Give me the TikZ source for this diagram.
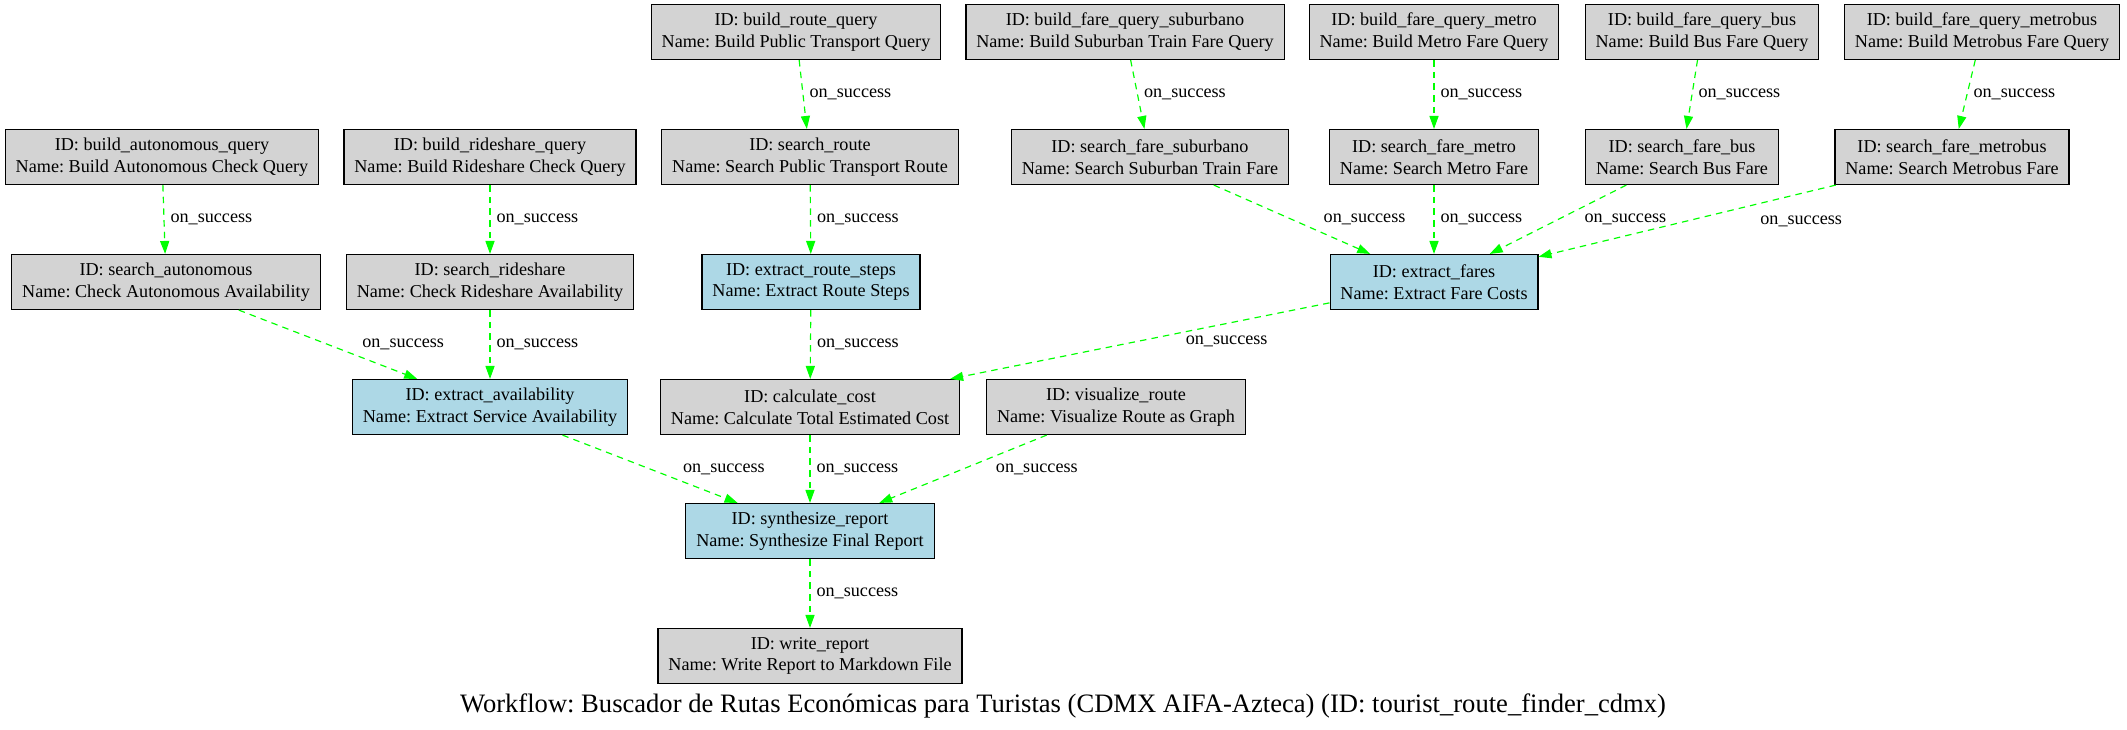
\documentclass[tikz,border=0pt]{standalone}
\usepackage{fontspec}
\setmainfont{Liberation Serif}
\usetikzlibrary{arrows.meta}
\frenchspacing

\definecolor{taskgray}{HTML}{D3D3D3}
\definecolor{taskblue}{HTML}{ADD8E6}
\definecolor{flowgreen}{HTML}{00FF00}

\tikzset{
	task/.style = {draw, line width=0.9pt, fill=taskgray, align=center, inner xsep=8pt, minimum height=42.4pt, font=\fontsize{14}{16.8}\selectfont},
	extract/.style = {task, fill=taskblue},
	flow/.style = {draw=flowgreen, line width=0.9pt, dash pattern=on 5pt off 4pt, -{Triangle[length=10pt, width=7pt]}},
	lbl/.style = {anchor=west, inner sep=0pt, font=\fontsize{14}{16.8}\selectfont}
}

\begin{document}
\begin{tikzpicture}[x = 0.771pt, y = -0.771pt]
							\useasboundingbox (0,0) rectangle (2127,729);

							% first row
							\node [task] (buildroute) at (796,32) {ID: build\_route\_query\\Name: Build Public Transport Query};
							\node [task] (buildsub) at (1125,32) {ID: build\_fare\_query\_suburbano\\Name: Build Suburban Train Fare Query};
							\node [task] (buildmetro) at (1434,32) {ID: build\_fare\_query\_metro\\Name: Build Metro Fare Query};
							\node [task] (buildbus) at (1702,32) {ID: build\_fare\_query\_bus\\Name: Build Bus Fare Query};
							\node [task] (buildmetrobus) at (1982,32) {ID: build\_fare\_query\_metrobus\\Name: Build Metrobus Fare Query};

							% second row
							\node [task] (buildauto) at (162,157) {ID: build\_autonomous\_query\\Name: Build Autonomous Check Query};
							\node [task] (buildride) at (490,157) {ID: build\_rideshare\_query\\Name: Build Rideshare Check Query};
							\node [task] (searchroute) at (810,157) {ID: search\_route\\Name: Search Public Transport Route};
							\node [task] (searchsub) at (1150,157) {ID: search\_fare\_suburbano\\Name: Search Suburban Train Fare};
							\node [task] (searchmetro) at (1434,157) {ID: search\_fare\_metro\\Name: Search Metro Fare};
							\node [task] (searchbus) at (1682,157) {ID: search\_fare\_bus\\Name: Search Bus Fare};
							\node [task] (searchmetrobus) at (1952,157) {ID: search\_fare\_metrobus\\Name: Search Metrobus Fare};

							% third row
							\node [task] (searchauto) at (166,282) {ID: search\_autonomous\\Name: Check Autonomous Availability};
							\node [task] (searchride) at (490,282) {ID: search\_rideshare\\Name: Check Rideshare Availability};
							\node [extract] (steps) at (811,282) {ID: extract\_route\_steps\\Name: Extract Route Steps};
							\node [extract] (fares) at (1434,282) {ID: extract\_fares\\Name: Extract Fare Costs};

							% fourth row
							\node [extract] (avail) at (490,407) {ID: extract\_availability\\Name: Extract Service Availability};
							\node [task] (cost) at (810,407) {ID: calculate\_cost\\Name: Calculate Total Estimated Cost};
							\node [task] (visual) at (1116,407) {ID: visualize\_route\\Name: Visualize Route as Graph};

							\node [extract] (synth) at (810,531) {ID: synthesize\_report\\Name: Synthesize Final Report};
							\node [task] (write) at (810,656) {ID: write\_report\\Name: Write Report to Markdown File};

							\foreach \a/\b/\s in {buildroute/searchroute/4.6, buildsub/searchsub/4.6, buildmetro/searchmetro/4.6,
								buildbus/searchbus/4.6, buildmetrobus/searchmetrobus/4.6, buildauto/searchauto/4.6,
								buildride/searchride/4.6, searchroute/steps/4.6, searchauto/avail/26, searchride/avail/4.6,
								searchsub/fares/24, searchmetro/fares/4.6, searchbus/fares/20, searchmetrobus/fares/56,
								steps/cost/4.6, fares/cost/35, avail/synth/25, cost/synth/4.6, visual/synth/25, synth/write/4.6}
							{
								\draw [flow] (\a) -- (\b) node [lbl, pos=0.5, xshift=\s pt] {on\_success};
							}

							\node [font=\fontsize{20.5}{24}\selectfont] (title) at (1063,706) {Workflow: Buscador de Rutas Económicas para Turistas (CDMX AIFA-Azteca) (ID: tourist\_route\_finder\_cdmx)};
						\end{tikzpicture}
\end{document}
